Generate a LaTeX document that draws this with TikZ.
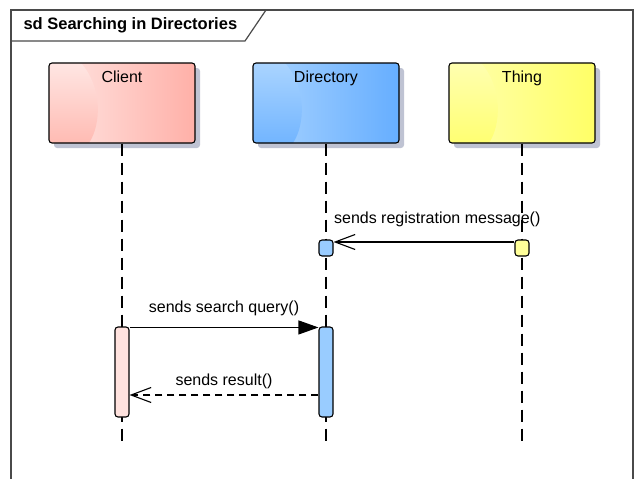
\documentclass[tikz,border=0pt]{standalone}
\usepackage{fontspec}
\setmainfont{Liberation Sans}
\usetikzlibrary{arrows.meta,shadows}

\definecolor{clientlight}{HTML}{FFE6E3}
\definecolor{clientdark}{HTML}{FFB0A8}
\definecolor{clientshade}{HTML}{FFBBB3}
\definecolor{dirlight}{HTML}{AAD4FF}
\definecolor{dirdark}{HTML}{66AEFF}
\definecolor{dirshade}{HTML}{72B5FF}
\definecolor{thinglight}{HTML}{FFFFB0}
\definecolor{thingdark}{HTML}{FFFF66}
\definecolor{thingshade}{HTML}{FFFF72}
\definecolor{clientact}{HTML}{FFE2DE}
\definecolor{diract}{HTML}{99CCFF}
\definecolor{thingact}{HTML}{FFFF99}
\definecolor{shadowgray}{HTML}{BFC3D3}
\definecolor{framegray}{HTML}{4A4A4A}

\newcommand{\diagfont}{\fontsize{16}{19}\selectfont}

\tikzset{
	frame/.style={draw=framegray, line width=1.2pt},
	lifebox/.style n args={3}{draw=black, line width=1.1pt, rounded corners=3pt,
		minimum width=146pt, minimum height=80pt, inner sep=0pt,
		left color=#1, right color=#2,
		path picture={\shade[sharp corners, top color=#1, bottom color=#3]
			(path picture bounding box.north west)
			-- ([xshift=32pt]path picture bounding box.north west)
			.. controls ([xshift=54pt,yshift=-25pt]path picture bounding box.north west)
			and ([xshift=52pt,yshift=-62pt]path picture bounding box.north west)
			.. ([xshift=40pt]path picture bounding box.south west)
			-- (path picture bounding box.south west) -- cycle;},
		drop shadow={shadow xshift=5pt, shadow yshift=-5pt, fill=shadowgray, opacity=1}},
	boxname/.style={anchor=north, inner sep=0pt, yshift=-8pt},
	actbox/.style={draw=black, line width=1.1pt, rounded corners=3pt,
		minimum width=14pt, inner sep=0pt, fill=#1},
	lifeline/.style={line width=1.1pt, dash pattern=on 12pt off 7pt},
	msg/.style={line width=1.1pt, -{Straight Barb[length=20pt,width=15pt]}},
	call/.style={line width=1.1pt, -{Triangle[length=20pt,width=14pt]}},
	reply/.style={msg, dash pattern=on 7pt off 5pt},
}

\begin{document}
\begin{tikzpicture}[x=1pt, y=-1pt, font=\diagfont]
	\useasboundingbox (0,0) rectangle (637,479);
	%frame
	\draw[frame] (11,479) -- (11,10) -- (633,10) -- (633,479);
	\draw[frame] (11,41) -- (245,41) -- (266,10);
	\node[anchor=west, font=\fontsize{16.5}{19}\selectfont\bfseries] (title) at (20,25.5) {sd Searching in Directories};
	
	%lifelines
	\node[lifebox={clientlight}{clientdark}{clientshade},
		label={[boxname, name=clientname]north:Client}] (client) at (122,103) {};
	\node[lifebox={dirlight}{dirdark}{dirshade},
		label={[boxname, name=dirname]north:Directory}] (directory) at (326,103) {};
	\node[lifebox={thinglight}{thingdark}{thingshade},
		label={[boxname, name=thingname]north:Thing}] (thing) at (522,103) {};
	
	\foreach \n/\x in {client/122, directory/326, thing/522}{
		\coordinate (\n end) at (\x,447);
		\draw[lifeline] (\n.south) -- (\n end);
	}
	
	%activations
	\node[actbox=clientact, minimum height=90pt] (clientbar) at (122,372) {};
	\node[actbox=diract, minimum height=90pt] (dirbar) at (326,372) {};
	\node[actbox=diract, minimum height=16pt] (dirreg) at (326,248) {};
	\node[actbox=thingact, minimum height=16pt] (thingreg) at (522,248) {};
	
	%messages
	\draw[msg] ([yshift=6pt]thingreg.west) -- ([yshift=6pt]dirreg.east)
		node[pos=1, anchor=base west, inner sep=0pt, yshift=19pt] (reglabel) {sends registration message()};
	\draw[call] ([yshift=-1pt]clientbar.north east) --
		node[anchor=base, inner sep=0pt, yshift=15pt] (querylabel) {sends search query()}
		([yshift=-1pt]dirbar.north west);
	\draw[reply] ([yshift=-23pt]dirbar.west) --
		node[anchor=base, inner sep=0pt, yshift=10pt] (resultlabel) {sends result()}
		([yshift=-23pt]clientbar.east);
\end{tikzpicture}
\end{document}
